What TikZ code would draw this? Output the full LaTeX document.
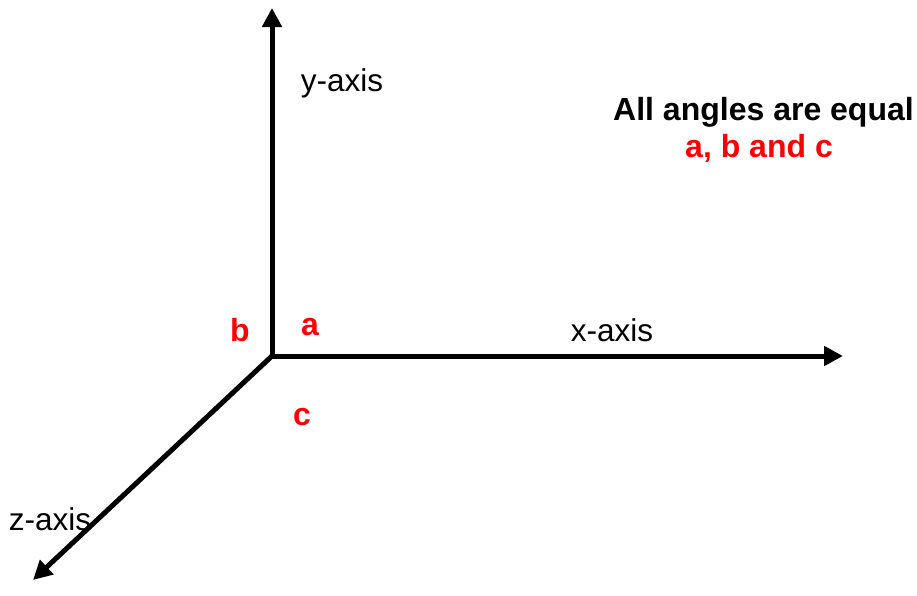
\documentclass[tikz,border=0pt]{standalone}
\usepackage{fontspec}
\setmainfont{Liberation Sans}
\usetikzlibrary{arrows.meta}
\definecolor{lblred}{RGB}{255,0,0}
\tikzset{
  axis/.style={line width=5pt, -{Triangle[length=19pt,width=19pt]}},
  axlabel/.style={font=\fontsize{31.5}{37}\selectfont, inner sep=0pt},
  anglelabel/.style={font=\fontsize{32}{37}\selectfont\bfseries, text=lblred, inner sep=0pt},
  note/.style={font=\fontsize{32}{37}\selectfont\bfseries, inner sep=0pt}
}
\begin{document}
\begin{tikzpicture}[x=1pt,y=-1pt]
\useasboundingbox (0,0) rectangle (917,595);
\coordinate (o) at (272,356);
\coordinate (ytip) at (272,8);
\coordinate (xtip) at (843,356);
\coordinate (ztip) at (33,580);
\draw[axis, shorten <=-2.5pt] (o) -- (ytip);
\draw[axis, shorten <=-2.5pt] (o) -- (xtip);
\draw[axis, shorten <=-1.5pt] (o) -- (ztip);
\node[axlabel] (ylab) at (342,83) {y-axis};
\node[axlabel] (xlab) at (612,330) {x-axis};
\node[axlabel] (zlab) at (50,519) {z-axis};
\node[anglelabel] (a) at (310,327) {a};
\node[anglelabel] (b) at (240,330) {b};
\node[anglelabel] (c) at (302,417) {c};
\node[note, anchor=base] (n1) at (763.5,120) {All angles are equal};
\node[anglelabel, anchor=base] (n2) at (759,157) {a, b and c};
\end{tikzpicture}
\end{document}
